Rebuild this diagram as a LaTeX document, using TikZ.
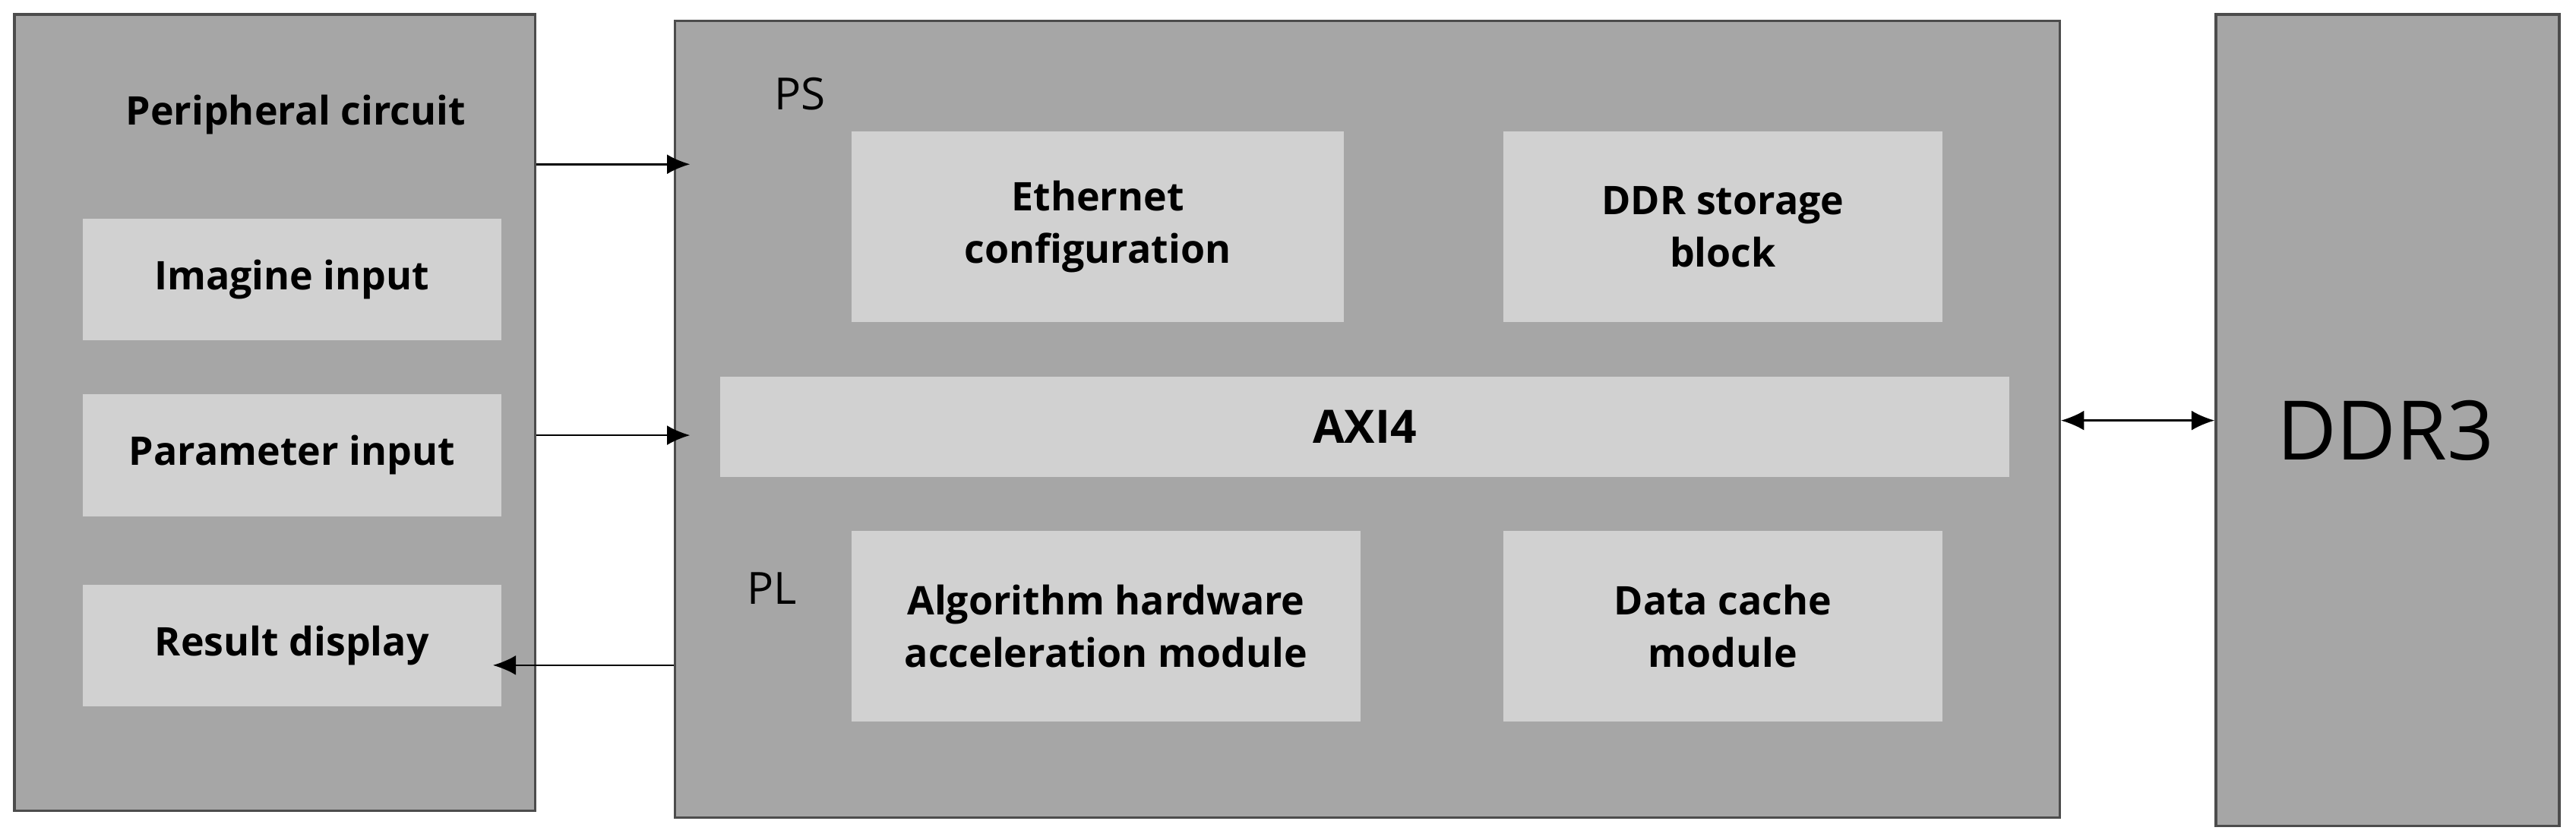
\documentclass[tikz,border=0pt]{standalone}
\usetikzlibrary{arrows.meta}
\usepackage{fontspec}
\setmainfont{Open Sans}
\begin{document}
\begin{tikzpicture}[x=1pt,y=-1pt,
 outer/.style={draw=black!70,line width=1.5pt,fill=black!35},
 inner/.style={draw=none,fill=black!18,font=\fontsize{24}{32}\selectfont\bfseries,align=center},
 lbl/.style={font=\fontsize{27}{32}\selectfont},
 arr/.style={line width=1.2pt,-{Latex[length=14pt,width=12pt]}}]
\useasboundingbox (0,0) rectangle (1568,511);
\node[outer,minimum width=317,minimum height=485,anchor=north west] (L) at (8,8) {};
\node[outer,minimum width=843,minimum height=485,anchor=north west] (M) at (410,12) {};
\node[outer,minimum width=209,minimum height=494,anchor=north west] (D) at (1348,8) {};
\node[font=\fontsize{50}{60}\selectfont] (ddr) at (1452,262) {DDR3};
\node[font=\fontsize{24}{32}\selectfont\bfseries] (pc) at (180,70) {Peripheral circuit};
\node[inner,minimum width=255,minimum height=74,anchor=north west] (img) at (50,133) {Imagine input};
\node[inner,minimum width=255,minimum height=74,anchor=north west] (par) at (50,240) {Parameter input};
\node[inner,minimum width=255,minimum height=74,anchor=north west] (res) at (50,356) {Result display};
\node[lbl] (ps) at (487,57) {PS};
\node[lbl] (pl) at (470,358) {PL};
\node[inner,minimum width=300,minimum height=116,anchor=north west] (eth) at (518,80) {Ethernet\\configuration};
\node[inner,minimum width=267,minimum height=116,anchor=north west] (ddrs) at (915,80) {DDR storage\\block};
\node[inner,minimum width=785,minimum height=61,anchor=north west,font=\fontsize{28}{34}\selectfont\bfseries] (axi) at (438,229) {AXI4};
\node[inner,minimum width=310,minimum height=116,anchor=north west] (alg) at (518,323) {Algorithm hardware\\acceleration module};
\node[inner,minimum width=267,minimum height=116,anchor=north west] (dc) at (915,323) {Data cache\\module};
\coordinate (a1) at (420,100);
\coordinate (a2) at (420,265);
\coordinate (a3) at (300,405);
\draw[arr] (L.east |- a1) -- (a1);
\draw[arr] (L.east |- a2) -- (a2);
\draw[arr] (M.west |- a3) -- (a3);
\draw[line width=1.2pt,{Latex[length=14pt,width=12pt]}-{Latex[length=14pt,width=12pt]}] (M.east |- 0,256) -- (D.west |- 0,256);
\end{tikzpicture}
\end{document}
